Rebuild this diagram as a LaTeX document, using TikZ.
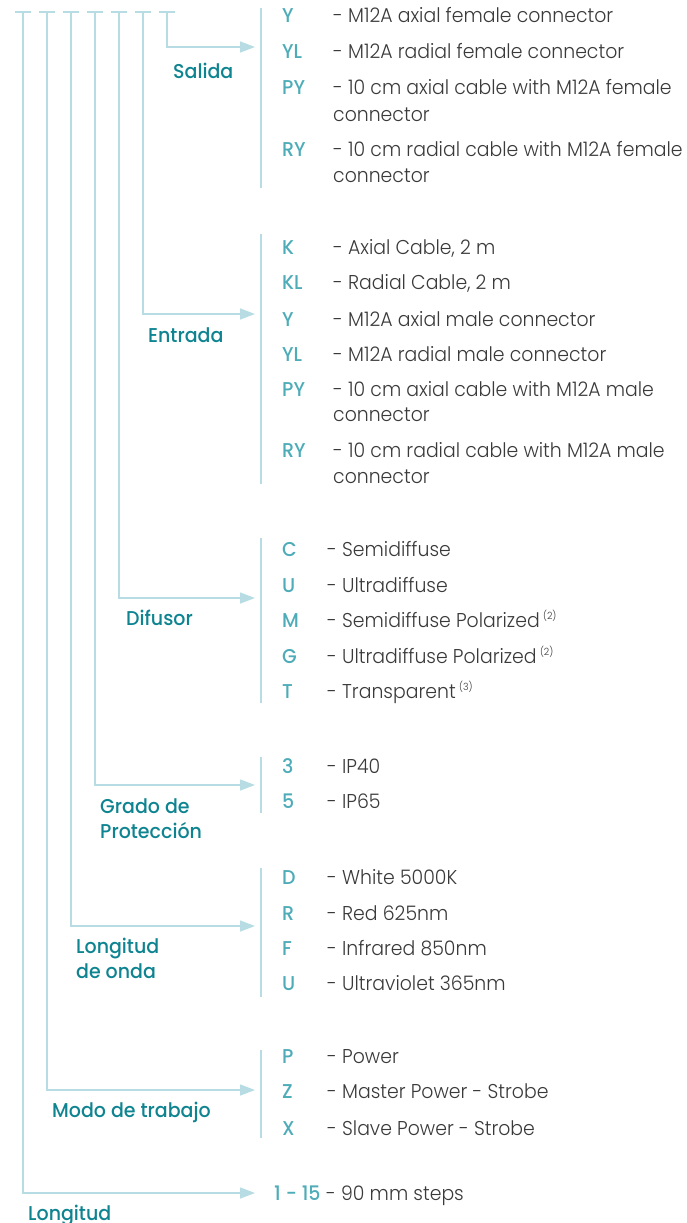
\documentclass[tikz,border=0pt]{standalone}
\usepackage{fontspec}
\IfFontExistsTF{Poppins Light}{\setmainfont{Poppins Light}[FakeStretch=0.943]}{\setmainfont{Poppins}[FakeStretch=0.943]}
\IfFontExistsTF{Poppins Medium}{\newfontfamily\labfont{Poppins Medium}[FakeStretch=0.95]}{\newfontfamily\labfont{Poppins}[FakeStretch=0.95]}
\usetikzlibrary{arrows.meta}
\definecolor{linecol}{HTML}{B7DCE3}
\definecolor{labcol}{HTML}{0F8491}
\definecolor{codecol}{HTML}{4EACB8}
\definecolor{desccol}{HTML}{3A3A3A}
\newcommand{\supnote}[1]{\,\raisebox{8pt}{\fontsize{10}{10}\selectfont(#1)}}
\tikzset{
  conn/.style={draw=linecol, line width=1.4pt},
  arr/.style={conn, -{Triangle[length=15pt,width=11pt]}},
  sep/.style={draw=linecol, line width=1.4pt},
  lab/.style={anchor=base west, inner sep=0pt, text=labcol, font=\labfont\fontsize{20}{25}\selectfont},
  code/.style={anchor=base west, inner sep=0pt, text=codecol, font=\labfont\fontsize{20}{25}\selectfont},
  desc/.style={anchor=base west, inner sep=0pt, text=desccol, font=\fontsize{20}{25}\selectfont},
}
\begin{document}
\begin{tikzpicture}[x=1pt,y=-1pt]
\useasboundingbox (0,0) rectangle (686,1223);
% tree coordinates
\foreach \n/\x/\ay in {s/167/47, e/143/314, d/119/598, g/95/785, w/71/926, m/47/1090, l/23/1193}{
  \coordinate (top-\n) at (\x,12);
  \coordinate (tl-\n) at (\x-8,12);
  \coordinate (tr-\n) at (\x+8,12);
  \coordinate (bend-\n) at (\x,\ay);
  \coordinate (tip-\n) at (255,\ay);
}
\foreach \n in {s,e,d,g,w,m,l}{
  \draw[conn] (tl-\n) -- (tr-\n);
  \draw[arr] (top-\n) -- (bend-\n) -- (tip-\n);
}
% separators
\foreach \n/\a/\b in {s/8/188, e/234/484, d/538/703, g/757/813, w/868/997, m/1050/1138}{
  \coordinate (sa-\n) at (261,\a);
  \coordinate (sb-\n) at (261,\b);
  \draw[sep] (sa-\n) -- (sb-\n);
}
% labels
\node[lab] (lab-s) at (173,78) {Salida};
\node[lab] (lab-e) at (148,342) {Entrada};
\node[lab] (lab-d) at (126,625) {Difusor};
\node[lab] (lab-g1) at (100,813) {Grado de};
\node[lab] (lab-g2) at (100,838) {Protección};
\node[lab] (lab-w1) at (76,953) {Longitud};
\node[lab] (lab-w2) at (76,978) {de onda};
\node[lab] (lab-m) at (52,1117) {Modo de trabajo};
\node[lab] (lab-l) at (28,1220) {Longitud};
% Salida
\node[code] (s1c) at (282,23) {Y};   \node[desc] (s1d) at (333,23) {- M12A axial female connector};
\node[code] (s2c) at (282,59) {YL};  \node[desc] (s2d) at (333,59) {- M12A radial female connector};
\node[code] (s3c) at (282,95) {PY};  \node[desc] (s3d) at (333,95) {- 10 cm axial cable with M12A female};
\node[desc] (s3e) at (333,121) {connector};
\node[code] (s4c) at (282,156) {RY}; \node[desc] (s4d) at (333,156) {- 10 cm radial cable with M12A female};
\node[desc] (s4e) at (333,182) {connector};
% Entrada
\node[code] (e1c) at (282,254) {K};  \node[desc] (e1d) at (333,254) {- Axial Cable, 2 m};
\node[code] (e2c) at (282,289) {KL}; \node[desc] (e2d) at (333,289) {- Radial Cable, 2 m};
\node[code] (e3c) at (282,326) {Y};  \node[desc] (e3d) at (333,326) {- M12A axial male connector};
\node[code] (e4c) at (282,361) {YL}; \node[desc] (e4d) at (333,361) {- M12A radial male connector};
\node[code] (e5c) at (282,396) {PY}; \node[desc] (e5d) at (333,396) {- 10 cm axial cable with M12A male};
\node[desc] (e5e) at (333,421) {connector};
\node[code] (e6c) at (282,457) {RY}; \node[desc] (e6d) at (333,457) {- 10 cm radial cable with M12A male};
\node[desc] (e6e) at (333,483) {connector};
% Difusor
\node[code] (d1c) at (282,556) {C}; \node[desc] (d1d) at (327,556) {- Semidiffuse};
\node[code] (d2c) at (282,592) {U}; \node[desc] (d2d) at (327,592) {- Ultradiffuse};
\node[code] (d3c) at (282,627) {M}; \node[desc] (d3d) at (327,627) {- Semidiffuse Polarized\supnote{2}};
\node[code] (d4c) at (282,663) {G}; \node[desc] (d4d) at (327,663) {- Ultradiffuse Polarized\supnote{2}};
\node[code] (d5c) at (282,698) {T}; \node[desc] (d5d) at (327,698) {- Transparent\supnote{3}};
% Grado
\node[code] (g1c) at (282,773) {3}; \node[desc] (g1d) at (327,773) {- IP40};
\node[code] (g2c) at (282,808) {5}; \node[desc] (g2d) at (327,808) {- IP65};
% Longitud de onda
\node[code] (w1c) at (282,884) {D}; \node[desc] (w1d) at (327,884) {- White 5000K};
\node[code] (w2c) at (282,920) {R}; \node[desc] (w2d) at (327,920) {- Red 625nm};
\node[code] (w3c) at (282,955) {F}; \node[desc] (w3d) at (327,955) {- Infrared 850nm};
\node[code] (w4c) at (282,990) {U}; \node[desc] (w4d) at (327,990) {- Ultraviolet 365nm};
% Modo
\node[code] (m1c) at (282,1063) {P}; \node[desc] (m1d) at (327,1063) {- Power};
\node[code] (m2c) at (282,1098) {Z}; \node[desc] (m2d) at (327,1098) {- Master Power - Strobe};
\node[code] (m3c) at (282,1135) {X}; \node[desc] (m3d) at (327,1135) {- Slave Power - Strobe};
% Longitud
\node[code] (l1c) at (274,1200) {1 - 15};
\node[desc] (l1d) at (l1c.base east) [anchor=base west] {\ - 90 mm steps};
\end{tikzpicture}
\end{document}
